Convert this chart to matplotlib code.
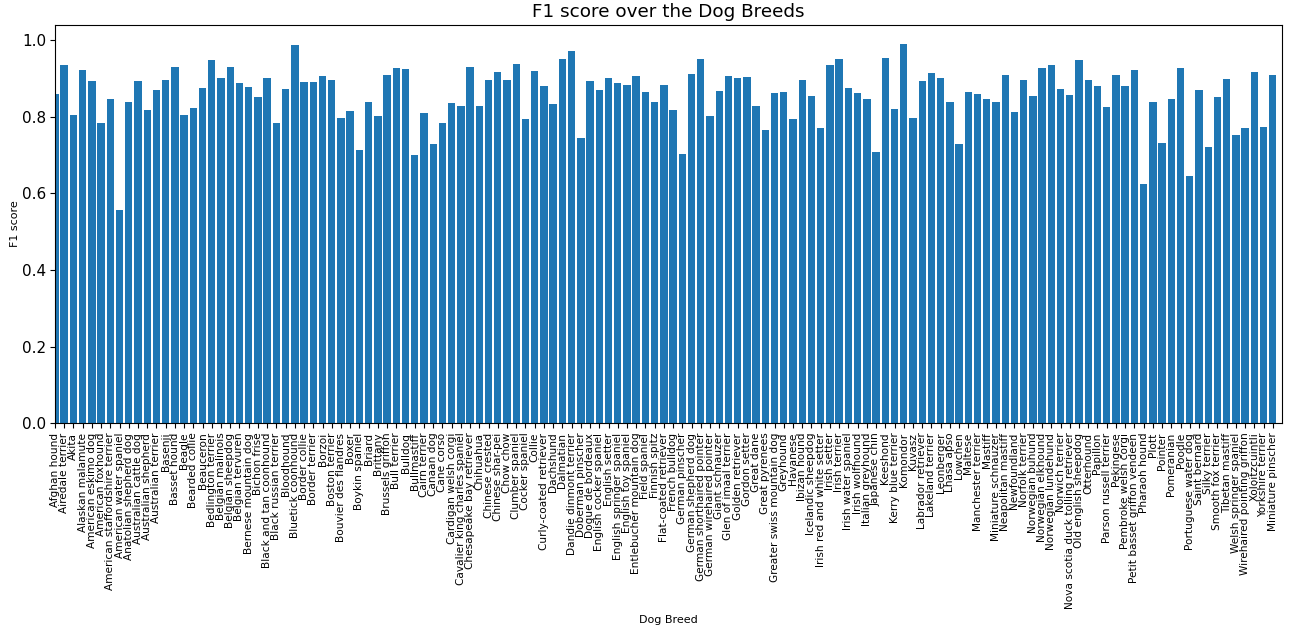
import numpy as np
import matplotlib
matplotlib.use('Agg')
import matplotlib.pyplot as plt

# breed names, in the order of the bars
breeds = [
    'Afghan hound', 'Airedale terrier', 'Akita', 'Alaskan malamute',
    'American eskimo dog', 'American foxhound', 'American staffordshire terrier',
    'American water spaniel', 'Anatolian shepherd dog', 'Australian cattle dog',
    'Australian shepherd', 'Australian terrier', 'Basenji', 'Basset hound',
    'Beagle', 'Bearded collie', 'Beauceron', 'Bedlington terrier',
    'Belgian malinois', 'Belgian sheepdog', 'Belgian tervuren',
    'Bernese mountain dog', 'Bichon frise', 'Black and tan coonhound',
    'Black russian terrier', 'Bloodhound', 'Bluetick coonhound', 'Border collie',
    'Border terrier', 'Borzoi', 'Boston terrier', 'Bouvier des flandres',
    'Boxer', 'Boykin spaniel', 'Briard', 'Brittany', 'Brussels griffon',
    'Bull terrier', 'Bulldog', 'Bullmastiff', 'Cairn terrier', 'Canaan dog',
    'Cane corso', 'Cardigan welsh corgi', 'Cavalier king charles spaniel',
    'Chesapeake bay retriever', 'Chihuahua', 'Chinese crested',
    'Chinese shar-pei', 'Chow chow', 'Clumber spaniel', 'Cocker spaniel',
    'Collie', 'Curly-coated retriever', 'Dachshund', 'Dalmatian',
    'Dandie dinmont terrier', 'Doberman pinscher', 'Dogue de bordeaux',
    'English cocker spaniel', 'English setter', 'English springer spaniel',
    'English toy spaniel', 'Entlebucher mountain dog', 'Field spaniel',
    'Finnish spitz', 'Flat-coated retriever', 'French bulldog',
    'German pinscher', 'German shepherd dog', 'German shorthaired pointer',
    'German wirehaired pointer', 'Giant schnauzer', 'Glen of imaal terrier',
    'Golden retriever', 'Gordon setter', 'Great dane', 'Great pyrenees',
    'Greater swiss mountain dog', 'Greyhound', 'Havanese', 'Ibizan hound',
    'Icelandic sheepdog', 'Irish red and white setter', 'Irish setter',
    'Irish terrier', 'Irish water spaniel', 'Irish wolfhound',
    'Italian greyhound', 'Japanese chin', 'Keeshond', 'Kerry blue terrier',
    'Komondor', 'Kuvasz', 'Labrador retriever', 'Lakeland terrier',
    'Leonberger', 'Lhasa apso', 'Lowchen', 'Maltese', 'Manchester terrier',
    'Mastiff', 'Miniature schnauzer', 'Neapolitan mastiff', 'Newfoundland',
    'Norfolk terrier', 'Norwegian buhund', 'Norwegian elkhound',
    'Norwegian lundehund', 'Norwich terrier',
    'Nova scotia duck tolling retriever', 'Old english sheepdog', 'Otterhound',
    'Papillon', 'Parson russell terrier', 'Pekingese', 'Pembroke welsh corgi',
    'Petit basset griffon vendeen', 'Pharaoh hound', 'Plott', 'Pointer',
    'Pomeranian', 'Poodle', 'Portuguese water dog', 'Saint bernard',
    'Silky terrier', 'Smooth fox terrier', 'Tibetan mastiff',
    'Welsh springer spaniel', 'Wirehaired pointing griffon', 'Xoloitzcuintli',
    'Yorkshire terrier', 'Miniature pinscher',
]

# f1 score per breed
f1_scores = [
    0.859, 0.936, 0.805, 0.923, 0.893, 0.784, 0.848, 0.556, 0.840, 0.893,
    0.818, 0.870, 0.897, 0.931, 0.805, 0.824, 0.877, 0.950, 0.903, 0.930,
    0.890, 0.878, 0.851, 0.903, 0.784, 0.872, 0.987, 0.891, 0.891, 0.907,
    0.897, 0.797, 0.815, 0.714, 0.840, 0.802, 0.910, 0.928, 0.926, 0.700,
    0.811, 0.730, 0.784, 0.837, 0.829, 0.930, 0.829, 0.896, 0.918, 0.898,
    0.939, 0.794, 0.921, 0.880, 0.835, 0.951, 0.972, 0.746, 0.894, 0.871,
    0.902, 0.890, 0.883, 0.907, 0.865, 0.840, 0.883, 0.819, 0.704, 0.913,
    0.951, 0.803, 0.867, 0.907, 0.903, 0.905, 0.830, 0.765, 0.863, 0.865,
    0.794, 0.898, 0.854, 0.771, 0.937, 0.951, 0.875, 0.863, 0.848, 0.709,
    0.955, 0.821, 0.991, 0.798, 0.894, 0.915, 0.903, 0.840, 0.730, 0.865,
    0.859, 0.846, 0.840, 0.910, 0.813, 0.896, 0.854, 0.928, 0.937, 0.873,
    0.857, 0.950, 0.896, 0.880, 0.827, 0.910, 0.880, 0.923, 0.624, 0.838,
    0.731, 0.848, 0.928, 0.647, 0.870, 0.721, 0.851, 0.900, 0.752, 0.770,
    0.918, 0.773, 0.909,
]

fig = plt.figure(figsize=(12.9, 6.34), dpi=100)
ax = fig.add_axes([0.0426, 0.3328, 0.9512, 0.6278])

x = np.arange(len(breeds))
ax.bar(x, f1_scores, width=0.8, color='#1f77b4')
ax.set_xticks(x)
ax.set_xticklabels(breeds, rotation=90, fontsize=7.6)
ax.set_xlim(0, len(breeds))
ax.tick_params(axis='y', labelsize=11, pad=2.5)

ax.set_xlabel('Dog Breed', fontsize=8)
ax.set_ylabel('F1 score', fontsize=8, labelpad=2)
ax.set_title('F1 score over the Dog Breeds', fontsize=13.2)

fig.savefig('out.png', dpi=100)
